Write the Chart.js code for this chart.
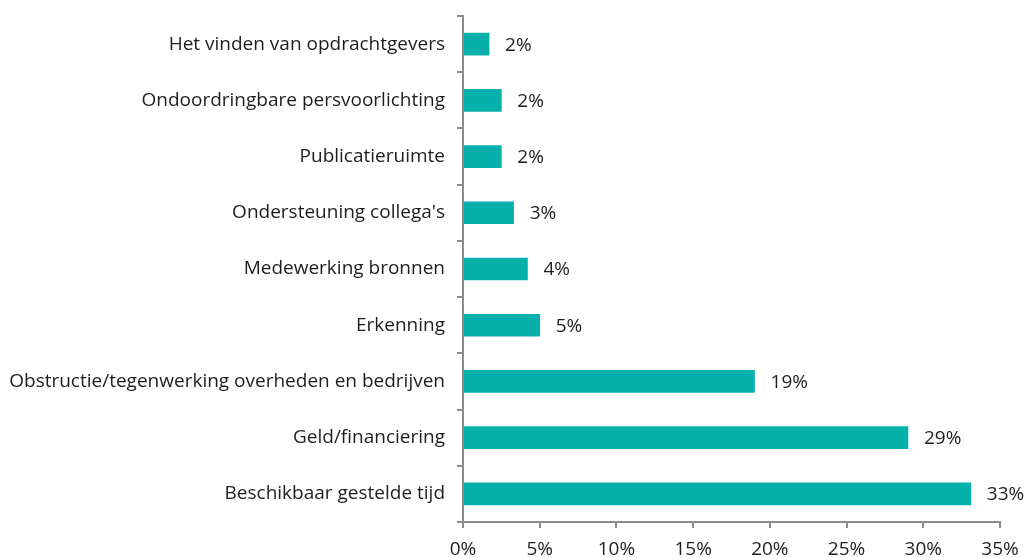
<!DOCTYPE html>
<html>
<head>
<meta charset="utf-8">
<script src="https://cdn.jsdelivr.net/npm/chart.js@4.4.1/dist/chart.umd.min.js"></script>
<style>
  html, body { margin: 0; padding: 0; background: #fff; }
  #wrap { width: 1025px; height: 558px; position: relative; }
</style>
</head>
<body>
<div id="wrap"><canvas id="barChart"></canvas></div>
<script>
const categories = [
  'Het vinden van opdrachtgevers',
  'Ondoordringbare persvoorlichting',
  'Publicatieruimte',
  "Ondersteuning collega's",
  'Medewerking bronnen',
  'Erkenning',
  'Obstructie/tegenwerking overheden en bedrijven',
  'Geld/financiering',
  'Beschikbaar gestelde tijd'
];
const values = [1.7, 2.5, 2.5, 3.3, 4.2, 5.0, 19.0, 29.0, 33.1];
const shownPct = [2, 2, 2, 3, 4, 5, 19, 29, 33];
const xTicks = [0, 5, 10, 15, 20, 25, 30, 35];

const COLORS = {
  bar: '#07b0aa',
  axis: '#8c8c8c',
  text: '#1e1e1e'
};
const FONT = '"Open Sans", Lato, sans-serif';
const FONT_SIZE = 19;

// value labels to the right of each bar
const barLabels = {
  id: 'barLabels',
  afterDatasetsDraw(chart) {
    const ctx = chart.ctx;
    const meta = chart.getDatasetMeta(0);
    ctx.save();
    ctx.font = FONT_SIZE + 'px ' + FONT;
    ctx.fillStyle = COLORS.text;
    ctx.textAlign = 'left';
    ctx.textBaseline = 'middle';
    meta.data.forEach((bar, i) => {
      ctx.fillText(shownPct[i] + '%', bar.x + 16, bar.y + 1);
    });
    ctx.restore();
  }
};

new Chart(document.getElementById('barChart').getContext('2d'), {
  type: 'bar',
  data: {
    labels: categories,
    datasets: [{
      data: values,
      backgroundColor: COLORS.bar,
      borderWidth: 0,
      barThickness: 22
    }]
  },
  options: {
    indexAxis: 'y',
    responsive: true,
    maintainAspectRatio: false,
    animation: false,
    layout: { padding: { top: 16, right: 25, left: 0, bottom: 0 } },
    plugins: {
      legend: { display: false },
      tooltip: { enabled: false }
    },
    scales: {
      x: {
        min: 0,
        max: 35,
        afterBuildTicks: scale => { scale.ticks = xTicks.map(v => ({ value: v })); },
        afterFit: scale => {
          scale.height = 36;
          scale.paddingLeft = 0;
          scale.paddingRight = 0;
        },
        border: { display: true, color: COLORS.axis, width: 2 },
        grid: {
          display: true,
          drawOnChartArea: false,
          drawTicks: true,
          tickLength: 6,
          color: COLORS.axis,
          lineWidth: 2
        },
        ticks: {
          color: COLORS.text,
          font: { family: FONT, size: FONT_SIZE },
          padding: 10,
          callback: v => v + '%'
        }
      },
      y: {
        afterFit: scale => {
          scale.width = 463;
          scale.paddingTop = 0;
          scale.paddingBottom = 0;
        },
        border: { display: true, color: COLORS.axis, width: 2 },
        grid: {
          display: true,
          offset: true,
          drawOnChartArea: false,
          drawTicks: true,
          tickLength: 6,
          color: COLORS.axis,
          lineWidth: 2
        },
        ticks: {
          color: COLORS.text,
          font: { family: FONT, size: FONT_SIZE },
          padding: 12
        }
      }
    }
  },
  plugins: [barLabels]
});
</script>
</body>
</html>
